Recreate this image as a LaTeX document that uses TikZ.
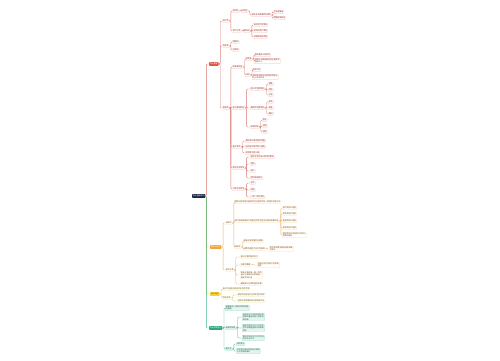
\documentclass[tikz,border=0pt]{standalone}
\usepackage{fontspec}
\setmainfont{Noto Sans CJK SC}
\definecolor{rootc}{HTML}{1B2A47}
\definecolor{redm}{HTML}{E0554A}
\definecolor{redl}{HTML}{D9756C}
\definecolor{redb}{HTML}{F2B8B2}
\definecolor{redt}{HTML}{8A2A20}
\definecolor{orm}{HTML}{F3A23D}
\definecolor{orl}{HTML}{EDB266}
\definecolor{orb}{HTML}{F7D8AE}
\definecolor{ort}{HTML}{7A4A10}
\definecolor{yem}{HTML}{F3D23A}
\definecolor{yel}{HTML}{E6C845}
\definecolor{yeb}{HTML}{F3E6A0}
\definecolor{yet}{HTML}{6A5A10}
\definecolor{grm}{HTML}{2FA67C}
\definecolor{grl}{HTML}{45B48E}
\definecolor{grb}{HTML}{93D5BC}
\definecolor{grf}{HTML}{E4F5EE}
\definecolor{grt}{HTML}{1F5E47}
\tikzset{
  base/.style={anchor=west, inner xsep=0.7pt, inner ysep=0.45pt, font=\fontsize{1.9}{2.3}\selectfont, align=left, rounded corners=0.5pt, line width=0.2pt},
  mainn/.style={base, inner xsep=0.9pt, inner ysep=0.9pt, text=white},
  rn/.style={base, draw=redb, text=redt},
  on/.style={base, draw=orb, text=ort},
  yn/.style={base, draw=yeb, text=yet},
  gn/.style={base, draw=grb, fill=grf, text=grt},
  rl/.style={draw=redl, line width=0.35pt, rounded corners=1pt},
  ol/.style={draw=orl, line width=0.35pt, rounded corners=1pt},
  yl/.style={draw=yel, line width=0.35pt, rounded corners=1pt},
  gl/.style={draw=grl, line width=0.35pt, rounded corners=1pt},
}
\newcommand{\cn}[3]{\draw[#1] (#2.east) -- ++(1.6,0) |- (#3.west);}
\begin{document}
\begin{tikzpicture}[x=1pt,y=-1pt]
\useasboundingbox[fill=white] (0,0) rectangle (500,360);
% root
\node[mainn, fill=rootc] (root) at (192,196) {会计基础知识};
% main branches
\node[mainn, fill=redm] (R) at (209,64) {会计要素};
\node[mainn, fill=orm] (O) at (210,247) {借贷记账法};
\node[mainn, fill=yem, text=yet] (Y) at (210,294) {会计凭证};
\node[mainn, fill=grm] (G) at (209,328) {会计账簿登记};
\draw[rl] (root.east) -- ++(1,0) |- (R.west);
\draw[ol] (root.east) -- ++(1,0) |- (O.west);
\draw[yl] (root.east) -- ++(1,0) |- (Y.west);
\draw[gl] (root.east) -- ++(1,0) |- (G.west);

% ---------------- red ----------------
\node[rn] (A) at (222,21) {资产类};
\node[rn] (A1) at (232,11) {流动性};
\node[rn] (A1x) at (241,11) {三特征};
\node[rn] (A1y) at (251,15) {由过去交易事项形成的};
\node[rn] (A1y1) at (273,12) {企业拥有或};
\node[rn] (A1y2) at (273,18) {预期带来利益};
\node[rn] (A2) at (232,31) {资产分类};
\node[rn] (A2x) at (243,31) {按流动};
\node[rn] (A2a) at (253,25) {流动资产类项目};
\node[rn] (A2b) at (253,31) {非流动资产项目};
\node[rn] (A2c) at (253,37) {长期股权投资等};
\node[rn] (B) at (222,46) {负债类};
\node[rn] (B1) at (232,42) {短期的};
\node[rn] (B2) at (232,50) {长期的};
\node[rn] (D) at (222,108) {权益类};
\node[rn] (C) at (232,67) {所有者权益};
\node[rn] (C1) at (245,59) {资本金};
\node[rn] (C1a) at (254,55) {投资者投入的资本};
\node[rn] (C1b) at (254,61) {按照企业章程规定的注册资本\\份额计入};
\node[rn] (C2) at (245,75) {公积};
\node[rn] (C2a) at (252,70) {资本公积};
\node[rn] (C2b) at (252,77) {收到投资超过注册资本的部分\\计入资本公积};
\node[rn] (Gd) at (232,108) {收入费用利润};
\node[rn] (G1) at (250,89) {收入的主要类别};
\node[rn] (G1a) at (268,84) {销售};
\node[rn] (G1b) at (268,90) {劳务};
\node[rn] (G1c) at (268,95) {让渡};
\node[rn] (G2) at (250,108) {费用的主要类别};
\node[rn] (G2a) at (268,102) {成本};
\node[rn] (G2b) at (268,108) {税金};
\node[rn] (G2c) at (268,114) {期间};
\node[rn] (G3) at (250,127) {利润构成};
\node[rn] (G3a) at (262,120) {营业};
\node[rn] (G3b) at (262,126) {总额};
\node[rn] (G3c) at (262,132) {净额};
\node[rn] (E) at (232,147) {会计等式};
\node[rn] (E1) at (245,141) {静态会计等式基本原理};
\node[rn] (E2) at (245,147) {动态会计等式收入费用};
\node[rn] (E3) at (245,153) {利润等于收入减};
\node[rn] (F) at (232,168) {经济业务类型};
\node[rn] (F1) at (250,157) {经济业务对会计等式的影响};
\node[rn] (F2) at (250,164) {增加};
\node[rn] (F3) at (250,171) {减少};
\node[rn] (F4) at (250,178) {同时增减变化};
\node[rn] (H) at (232,189) {九种业务类型};
\node[rn] (H1) at (250,183) {左右};
\node[rn] (H2) at (250,190) {同增};
\node[rn] (H3) at (250,197) {一增一减不变类};
\foreach \p/\c in {R/A,R/B,R/D,A/A1,A/A2,A1/A1x,A1x/A1y,A1y/A1y1,A1y/A1y2,A2/A2x,A2x/A2a,A2x/A2b,A2x/A2c,B/B1,B/B2,
  D/C,D/Gd,D/E,D/F,D/H,C/C1,C/C2,C1/C1a,C1/C1b,C2/C2a,C2/C2b,Gd/G1,Gd/G2,Gd/G3,G1/G1a,G1/G1b,G1/G1c,G2/G2a,G2/G2b,G2/G2c,
  G3/G3a,G3/G3b,G3/G3c,E/E1,E/E2,E/E3,F/F1,F/F2,F/F3,F/F4,H/H1,H/H2,H/H3}
  {\cn{rl}{\p}{\c}}

% ---------------- orange ----------------
\node[on] (O1) at (225,223) {记账法};
\node[on] (O1a) at (234,202) {借贷记账法是以借和贷为记账符号的一种复式记账方法};
\node[on] (O1b) at (234,221) {账户结构是指账户的借方和贷方登记内容的具体规定};
\node[on] (O1b1) at (282,208) {资产类账户结构};
\node[on] (O1b2) at (282,214) {负债类账户结构};
\node[on] (O1b3) at (282,221) {权益类账户结构};
\node[on] (O1b4) at (282,228) {成本类账户结构};
\node[on] (O1b5) at (282,235) {损益类账户的结构分为收入\\和费用两类};
\node[on] (O1c) at (234,247) {规则法};
\node[on] (O1c1) at (243,241) {有借必有贷借贷必相等};
\node[on] (O1c2) at (243,249) {试算平衡的方法分为两种};
\node[on] (O1c2a) at (269,249) {发生额试算平衡和余额试算\\平衡法};
\node[on] (O3) at (225,270) {会计分录};
\node[on] (O3a) at (240,257) {会计分录的基本含义};
\node[on] (O3b) at (240,265) {分录的要素};
\node[on] (O3b1) at (257,265) {应借应贷方向账户名称及\\金额};
\node[on] (O3c) at (240,275) {简单分录是指一借一贷的\\会计分录复合分录是指一\\借多贷的分录};
\node[on] (O3d) at (240,284) {编制会计分录的基本步骤};
\foreach \p/\c in {O/O1,O/O3,O1/O1a,O1/O1b,O1/O1c,O1b/O1b1,O1b/O1b2,O1b/O1b3,O1b/O1b4,O1b/O1b5,
  O1c/O1c1,O1c/O1c2,O1c2/O1c2a,O3/O3a,O3/O3b,O3/O3c,O3/O3d,O3b/O3b1}
  {\cn{ol}{\p}{\c}}

% ---------------- yellow ----------------
\node[yn] (Y1) at (222,289) {会计凭证是记录经济业务的凭据};
\node[yn] (Y2) at (222,298) {凭证种类};
\node[yn] (Y2a) at (237,295) {原始凭证在经济业务发生时取得};
\node[yn] (Y2b) at (237,301) {记账凭证根据审核无误原始凭证};
\foreach \p/\c in {Y/Y1,Y/Y2,Y2/Y2a,Y2/Y2b}
  {\cn{yl}{\p}{\c}}

% ---------------- green ----------------
\node[gn] (Gr1) at (225,308) {账簿是由一定格式账页组成\\的簿籍};
\node[gn] (Gr2) at (225,328) {账簿的种类};
\node[gn] (Gr2a) at (242,317) {按用途分为序时账簿分类\\账簿和备查账簿三种类型\\的账簿};
\node[gn] (Gr2b) at (242,328) {按账页格式分为三栏式多\\栏式和数量金额式账簿等\\类型};
\node[gn] (Gr2c) at (242,338) {按外形特征分为订本式活\\页式和卡片式};
\node[gn] (Gr3) at (225,349) {更正法};
\node[gn] (Gr3a) at (236,344) {划线更正};
\node[gn] (Gr3b) at (236,351) {红字更正和补充登记法适用\\于不同错误情形};
\foreach \p/\c in {G/Gr1,G/Gr2,G/Gr3,Gr2/Gr2a,Gr2/Gr2b,Gr2/Gr2c,Gr3/Gr3a,Gr3/Gr3b}
  {\cn{gl}{\p}{\c}}
\end{tikzpicture}
\end{document}
